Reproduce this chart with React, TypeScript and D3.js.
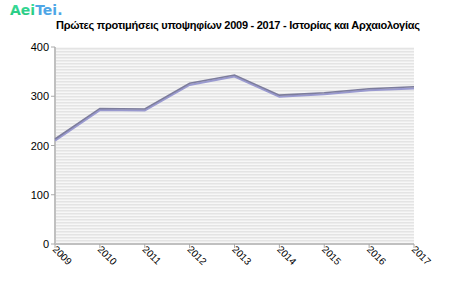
import React from "react";
import * as d3 from "d3";

const years = ["2009", "2010", "2011", "2012", "2013", "2014", "2015", "2016", "2017"];
const values = [212, 274, 273, 325, 342, 301, 306, 314, 318];
const yTicks = [0, 100, 200, 300, 400];
const title = "Πρώτες προτιμήσεις υποψηφίων 2009 - 2017 - Ιστορίας και Αρχαιολογίας";

export default function App() {
  const W = 450, H = 300;
  const left = 55, right = 414, top = 47, bottom = 244;
  const x = d3.scalePoint<string>().domain(years).range([left, right]);
  const y = d3.scaleLinear().domain([0, 400]).range([bottom, top]);
  const line = d3.line<number>().x((_, i) => x(years[i])!).y((d) => y(d));
  const path = line(values)!;
  const font = "'Liberation Sans', Arial, sans-serif";
  return (
    <svg width={W} height={H} style={{ position: "absolute", left: 0, top: 0, background: "#fff" }} fontFamily={font}>
      <defs>
        <pattern id="stripes" width="4" height="3" patternUnits="userSpaceOnUse">
          <rect width="4" height="3" fill="#f7f7f7" />
          <rect width="4" height="1.5" fill="#e4e4e4" />
        </pattern>
        <linearGradient id="aei" x1="0" y1="0" x2="0" y2="1">
          <stop offset="0" stopColor="#3fe0a0" />
          <stop offset="1" stopColor="#22c47a" />
        </linearGradient>
      </defs>
      <text x={10} y={15} fontSize={14} fontWeight="bold" fontFamily="'DejaVu Sans', sans-serif">
        <tspan fill="url(#aei)">Aei</tspan>
        <tspan fill="#4ea6e6">Tei.</tspan>
      </text>
      <text x={238} y={29} textAnchor="middle" fontSize={11} fontWeight="bold" fill="#000" textLength={364} lengthAdjust="spacing">
        {title}
      </text>
      <rect x={left} y={top} width={right - left} height={bottom - top} fill="url(#stripes)" />
      <line x1={left} y1={top} x2={left} y2={bottom} stroke="#c0c0c0" strokeWidth={2} />
      <line x1={left} y1={bottom} x2={right} y2={bottom} stroke="#c0c0c0" strokeWidth={2} />
      {yTicks.map((t) => (
        <g key={t}>
          <line x1={left - 4} x2={left} y1={y(t)} y2={y(t)} stroke="#aaa" />
          <text x={left - 6} y={y(t) + 4} textAnchor="end" fontSize={11} fill="#000">{t}</text>
        </g>
      ))}
      {years.map((yr) => (
        <g key={yr}>
          <line x1={x(yr)} x2={x(yr)} y1={bottom} y2={bottom + 4} stroke="#aaa" />
          <text transform={`translate(${x(yr)! - 3},${bottom + 6}) rotate(45)`} fontSize={10} fill="#000">{yr}</text>
        </g>
      ))}
      <path d={path} fill="none" stroke="#9a9ad0" strokeWidth={2} transform="translate(0,1)" strokeLinejoin="miter" />
      <path d={path} fill="none" stroke="#7c7c9c" strokeWidth={1.6} transform="translate(0,-0.6)" strokeLinejoin="miter" />
    </svg>
  );
}
